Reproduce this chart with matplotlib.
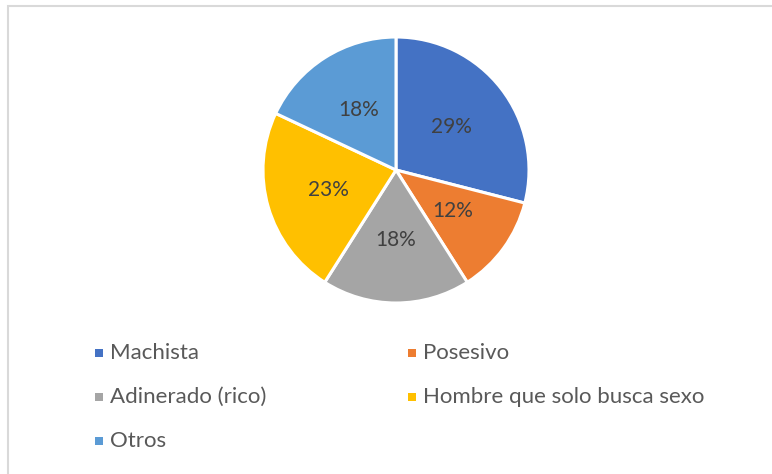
import matplotlib.pyplot as plt
from matplotlib.patches import Rectangle

labels = ["Machista", "Posesivo", "Adinerado (rico)", "Hombre que solo busca sexo", "Otros"]
shares = [29, 12, 18, 23, 18]
colors = ["#4472C4", "#ED7D31", "#A5A5A5", "#FFC000", "#5B9BD5"]

W, H = 772, 474
plt.rcParams["font.family"] = ["Lato", "DejaVu Sans"]

fig = plt.figure(figsize=(W / 100, H / 100), dpi=100)
ax = fig.add_axes([0, 0, 1, 1])

wedges, texts, autotexts = ax.pie(
    shares,
    colors=colors,
    startangle=90,
    counterclock=False,
    center=(396, H - 170),
    radius=133,
    autopct="%d%%",
    pctdistance=0.53,
    wedgeprops=dict(edgecolor="white", linewidth=2.2),
    textprops=dict(color="#404040", fontsize=15),
    frame=True,
)

ax.set_xlim(0, W)
ax.set_ylim(0, H)
ax.set_aspect("equal")
ax.axis("off")

# chart-area border (Excel style), runs off the right and bottom edges
ax.add_patch(Rectangle((7.5, -10), W, H - 5.5 + 10, fill=False,
                       edgecolor="#D9D9D9", linewidth=1.5))

# legend, filled row by row like Excel
col_x = [99, 412]
row_y = [353, 397, 441]
for i, (lab, col) in enumerate(zip(labels, colors)):
    x = col_x[i % 2]
    y = H - row_y[i // 2]
    ax.add_patch(Rectangle((x - 4, y - 4), 8, 8, facecolor=col, edgecolor="none"))
    ax.text(x + 11, y, lab, ha="left", va="center", fontsize=16, color="#595959")

fig.savefig("out.png", dpi=100)
